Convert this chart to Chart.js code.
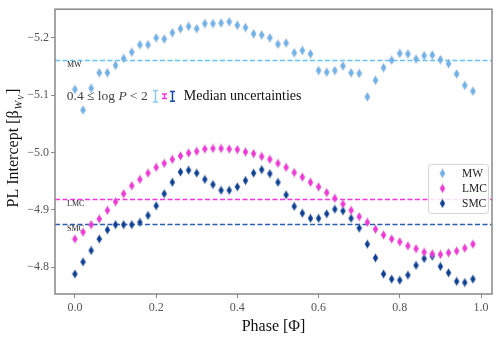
<!DOCTYPE html>
<html>
<head>
<meta charset="utf-8">
<script src="https://cdn.jsdelivr.net/npm/chart.js@4"></script>
<style>
  body { margin: 0; background: #fff; }
  canvas { display: block; }
</style>
</head>
<body>
<canvas id="myChart" width="498" height="337"></canvas>
<script>
// phase bins 0.00 .. 0.98
var phase = [0.00,0.02,0.04,0.06,0.08,0.10,0.12,0.14,0.16,0.18,
             0.20,0.22,0.24,0.26,0.28,0.30,0.32,0.34,0.36,0.38,
             0.40,0.42,0.44,0.46,0.48,0.50,0.52,0.54,0.56,0.58,
             0.60,0.62,0.64,0.66,0.68,0.70,0.72,0.74,0.76,0.78,
             0.80,0.82,0.84,0.86,0.88,0.90,0.92,0.94,0.96,0.98]

var mw = [-5.110,-5.074,-5.112,-5.139,-5.139,-5.152,-5.164,-5.175,-5.188,-5.188,
          -5.200,-5.198,-5.209,-5.216,-5.220,-5.216,-5.225,-5.225,-5.226,-5.228,
          -5.222,-5.218,-5.207,-5.205,-5.200,-5.189,-5.191,-5.174,-5.178,-5.172,
          -5.143,-5.140,-5.143,-5.151,-5.139,-5.138,-5.097,-5.126,-5.148,-5.161,
          -5.173,-5.172,-5.163,-5.169,-5.170,-5.162,-5.155,-5.137,-5.117,-5.107]

var lmc = [-4.849,-4.861,-4.874,-4.884,-4.899,-4.914,-4.928,-4.942,-4.953,-4.964,
           -4.974,-4.981,-4.988,-4.994,-4.999,-5.002,-5.006,-5.007,-5.007,-5.006,
           -5.005,-5.001,-4.998,-4.993,-4.988,-4.981,-4.974,-4.965,-4.957,-4.948,
           -4.940,-4.930,-4.920,-4.910,-4.899,-4.888,-4.878,-4.866,-4.856,-4.849,
           -4.844,-4.837,-4.832,-4.826,-4.823,-4.822,-4.825,-4.828,-4.833,-4.840]

var smc = [-4.788,-4.809,-4.829,-4.849,-4.865,-4.874,-4.874,-4.874,-4.878,-4.890,
           -4.907,-4.928,-4.948,-4.966,-4.969,-4.964,-4.953,-4.944,-4.934,-4.934,
           -4.940,-4.951,-4.964,-4.970,-4.963,-4.948,-4.926,-4.906,-4.894,-4.885,
           -4.885,-4.893,-4.901,-4.898,-4.885,-4.868,-4.840,-4.816,-4.788,-4.779,
           -4.777,-4.786,-4.803,-4.815,-4.819,-4.801,-4.790,-4.775,-4.773,-4.779]

// mean intercept of each galaxy (dashed lines)
var galaxies = ["MW","LMC","SMC"]
var meanIntercept = [-5.162,-4.919,-4.875]
// median uncertainties (half length of error bar)
var medianErr = [0.010,0.004,0.0085]

var xTicks = [0.0,0.2,0.4,0.6,0.8,1.0]
var yTicks = [-5.2,-5.1,-5.0,-4.9,-4.8]

var ptColors = ["#6db3ee","#f535dc","#0a3f96"]
var lineColors = ["#66c1f7","#f535e0","#2a5cb0"]
var errColors = ["#8ccaf2","#f535e0","#1446a8"]
var serif = "'Liberation Serif', 'DejaVu Serif', serif"

function diamond(color){
  var c = document.createElement('canvas')
  c.width = 7; c.height = 10
  var g = c.getContext('2d')
  g.beginPath()
  g.moveTo(3.5,0.5); g.lineTo(6.2,5); g.lineTo(3.5,9.5); g.lineTo(0.8,5)
  g.closePath()
  g.fillStyle = color
  g.fill()
  g.strokeStyle = 'rgba(170,170,170,0.6)'
  g.lineWidth = 0.6
  g.stroke()
  return c
}
var markers = ptColors.map(diamond)

function pts(vals){
  return phase.map(function(p,i){ return {x:p, y:vals[i]} })
}

var extras = {
  id: 'extras',
  beforeDatasetsDraw: function(chart){
    var ctx = chart.ctx, a = chart.chartArea, ys = chart.scales.y
    ctx.save()
    ctx.setLineDash([5,2.5])
    ctx.lineWidth = 1.3
    meanIntercept.forEach(function(v,i){
      var y = Math.round(ys.getPixelForValue(v)) + 0.5
      ctx.strokeStyle = lineColors[i]
      ctx.beginPath(); ctx.moveTo(a.left,y); ctx.lineTo(a.right,y); ctx.stroke()
    })
    ctx.setLineDash([])
    ctx.fillStyle = '#222'
    ctx.font = '8px ' + serif
    ctx.textBaseline = 'top'
    meanIntercept.forEach(function(v,i){
      var y = ys.getPixelForValue(v)
      ctx.fillText(galaxies[i], a.left + 12, y + 1)
    })
    ctx.restore()
  },
  afterDraw: function(chart){
    var ctx = chart.ctx, a = chart.chartArea, xs = chart.scales.x, ys = chart.scales.y
    ctx.save()
    // frame
    ctx.strokeStyle = '#888'
    ctx.lineWidth = 1.5
    ctx.strokeRect(a.left, a.top, a.right - a.left, a.bottom - a.top)

    // annotation text
    ctx.textBaseline = 'alphabetic'
    ctx.fillStyle = '#444'
    ctx.font = '13.5px ' + serif
    var x0 = xs.getPixelForValue(-0.02), yb = ys.getPixelForValue(-5.091)
    var s1 = '0.4 \u2264 log '
    ctx.fillText(s1, x0, yb)
    var w = ctx.measureText(s1).width
    ctx.font = 'italic 13.5px ' + serif
    ctx.fillText('P', x0 + w, yb)
    w += ctx.measureText('P').width
    ctx.font = '13.5px ' + serif
    ctx.fillText(' < 2', x0 + w, yb)
    ctx.fillStyle = '#111'
    ctx.font = '14px ' + serif
    ctx.fillText('Median uncertainties', xs.getPixelForValue(0.268), yb)

    // median uncertainty bars
    var ex = [0.198, 0.220, 0.240], ey = -5.098
    medianErr.forEach(function(e,i){
      var x = Math.round(xs.getPixelForValue(ex[i])) + 0.5
      var t = ys.getPixelForValue(ey - e), b = ys.getPixelForValue(ey + e)
      ctx.strokeStyle = errColors[i]
      ctx.lineWidth = 1.5
      ctx.beginPath()
      ctx.moveTo(x,t); ctx.lineTo(x,b)
      ctx.moveTo(x-2.5,t); ctx.lineTo(x+2.5,t)
      ctx.moveTo(x-2.5,b); ctx.lineTo(x+2.5,b)
      ctx.stroke()
    })

    // legend
    var lx = a.right - 64, ly = ys.getPixelForValue(-4.98), lw = 60, lh = 49
    ctx.fillStyle = 'rgba(255,255,255,0.85)'
    ctx.strokeStyle = '#d4d4d4'
    ctx.lineWidth = 1
    ctx.beginPath()
    ctx.roundRect(lx + 0.5, ly + 0.5, lw, lh, 3)
    ctx.fill(); ctx.stroke()
    ctx.font = '11.5px ' + serif
    ctx.fillStyle = '#222'
    ctx.textBaseline = 'middle'
    galaxies.forEach(function(g,i){
      var cy = ly + 9.5 + i * 15
      ctx.drawImage(markers[i], lx + 11, cy - 5)
      ctx.fillText(g, lx + 34, cy + 0.5)
    })

    // axis titles
    ctx.fillStyle = '#111'
    ctx.font = '16px ' + serif
    ctx.textAlign = 'center'
    ctx.textBaseline = 'alphabetic'
    ctx.fillText('Phase [\u03A6]', (a.left + a.right) / 2, 331)

    ctx.translate(18, (a.top + a.bottom) / 2 - 4)
    ctx.rotate(-Math.PI / 2)
    ctx.textAlign = 'left'
    var parts = [['PL Intercept [\u03B2', '16px ', 0], ['W', 'italic 10.5px ', 3.5], ['V', 'italic 7.5px ', 5.5], [']', '16px ', 0]]
    var total = 0
    parts.forEach(function(p){ ctx.font = p[1] + serif; total += ctx.measureText(p[0]).width + 1 })
    var cx = -total / 2
    parts.forEach(function(p){
      ctx.font = p[1] + serif
      ctx.fillText(p[0], cx, p[2])
      cx += ctx.measureText(p[0]).width + 1
    })
    ctx.restore()
  }
}

var myChart = document.getElementById('myChart').getContext('2d')
var chart = new Chart(myChart, {
  type: 'scatter',
  data: {
    datasets: galaxies.map(function(g,i){
      return {
        label: g,
        data: pts([mw,lmc,smc][i]),
        pointStyle: markers[i],
        backgroundColor: ptColors[i],
        borderColor: ptColors[i]
      }
    })
  },
  options: {
    responsive: false,
    animation: false,
    layout: { padding: { top: 5, right: 6, left: 0, bottom: 0 } },
    plugins: { legend: { display: false }, tooltip: { enabled: false } },
    scales: {
      x: {
        type: 'linear',
        min: -0.049, max: 1.027,
        afterFit: function(s){ s.height = 43 },
        afterBuildTicks: function(s){ s.ticks = xTicks.map(function(v){ return {value:v} }) },
        border: { display: false },
        grid: { drawOnChartArea: false, drawTicks: true, tickLength: 4, color: '#888' },
        ticks: {
          padding: 3, color: '#555',
          font: { family: serif, size: 12 },
          callback: function(v){ return v.toFixed(1) }
        }
      },
      y: {
        type: 'linear',
        reverse: true,
        min: -5.25, max: -4.753,
        afterFit: function(s){ s.width = 55 },
        afterBuildTicks: function(s){ s.ticks = yTicks.map(function(v){ return {value:v} }) },
        border: { display: false },
        grid: { drawOnChartArea: false, drawTicks: true, tickLength: 4, color: '#888' },
        ticks: {
          padding: 2, color: '#555',
          font: { family: serif, size: 12 },
          callback: function(v){ return (v < 0 ? '\u2212' : '') + Math.abs(v).toFixed(1) }
        }
      }
    }
  },
  plugins: [extras]
})
</script>
</body>
</html>
